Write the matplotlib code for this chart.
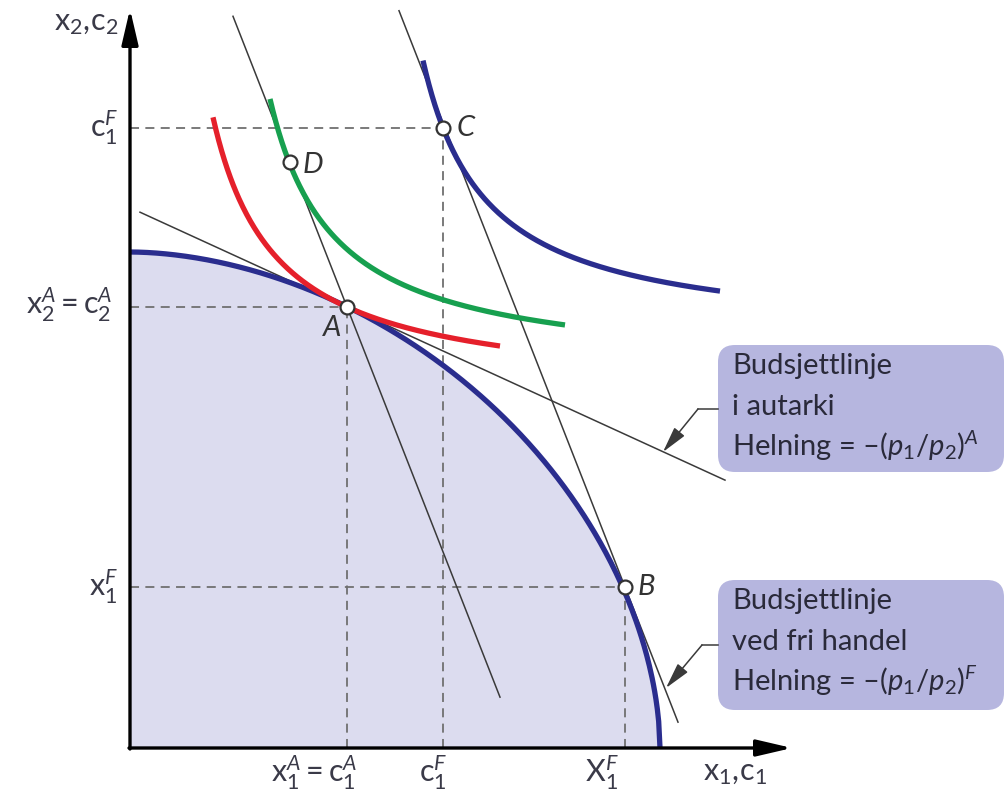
import numpy as np
import matplotlib.pyplot as plt
from matplotlib.patches import FancyBboxPatch

plt.rcParams['font.family'] = ['Lato', 'DejaVu Sans']
plt.rcParams['mathtext.fontset'] = 'custom'
plt.rcParams['mathtext.rm'] = 'Lato'
plt.rcParams['mathtext.it'] = 'Lato:italic'

# Transformasjonskurve: akseskjæringer og krumning
ppf_a, ppf_b, ppf_p = 5.30, 4.96, 1.84

# Punkter A, B, C, D
pkt_navn = ['A', 'B', 'C', 'D']
pkt_x = [2.17, 4.95, 3.13, 1.60]
pkt_y = [4.41, 1.61, 6.20, 5.86]

# Indifferenskurver  y = y0 + k/(x - x0)
ic_k = 1.757
ic_x0 = [0.200, 0.761, 2.301]
ic_y0 = [3.518, 3.741, 4.081]
ic_fra = [0.83, 1.40, 2.93]
ic_til = [3.70, 4.35, 5.90]
ic_farge = ['#e5202b', '#17a04f', '#2a2d8e']

# Budsjettlinjer: helning, punkt den går gjennom, x-område
bl_helning = [-0.458, -2.55, -2.55]
bl_punkt = ['A', 'A', 'B']
bl_fra = [0.10, 1.03, 2.69]
bl_til = [5.95, 3.70, 5.48]

# Tekst i boksene
boks1_linjer = ['Budsjettlinje', 'i autarki', 'Helning = –' + r'$(p_1/p_2)^A$']
boks2_linjer = ['Budsjettlinje', 'ved fri handel', 'Helning = –' + r'$(p_1/p_2)^F$']

navy = '#2a2d8e'
fyll = '#dcdcef'
boks = '#b6b6df'
strek = '#707070'

fig = plt.figure(figsize=(10.06, 7.93), dpi=100)
ax = fig.add_axes([0, 0, 1, 1])
ax.set_xlim(-1.30, 8.76)
ax.set_ylim(-0.45, 7.48)
ax.axis('off')

P = {n: (x, y) for n, x, y in zip(pkt_navn, pkt_x, pkt_y)}

# transformasjonskurven med fylt område under
xs = np.linspace(0, ppf_a, 400)
ys = ppf_b * np.clip(1 - (xs / ppf_a) ** ppf_p, 0, None) ** (1 / ppf_p)
ax.fill_between(xs, 0, ys, color=fyll, lw=0, zorder=0)
ax.plot(xs, ys, color=navy, lw=3.8, zorder=4, solid_capstyle='butt')

# stiplede hjelpelinjer
for n in ['A', 'B', 'C']:
    x, y = P[n]
    ax.plot([0, x], [y, y], ls=(0, (5, 3.5)), color=strek, lw=1.3, zorder=1)
    ax.plot([x, x], [0, y], ls=(0, (5, 3.5)), color=strek, lw=1.3, zorder=1)

# budsjettlinjer
for h, p, a, b in zip(bl_helning, bl_punkt, bl_fra, bl_til):
    px, py = P[p]
    xx = np.array([a, b])
    ax.plot(xx, py + h * (xx - px), color='#3a3a3a', lw=1.1, zorder=3)

# indifferenskurver
for x0, y0, a, b, c in zip(ic_x0, ic_y0, ic_fra, ic_til, ic_farge):
    xx = np.linspace(a, b, 300)
    ax.plot(xx, y0 + ic_k / (xx - x0), color=c, lw=3.8, zorder=5,
            solid_capstyle='butt')

# punkter
ax.plot(pkt_x, pkt_y, 'o', ms=10, mfc='white', mec='#333333', mew=1.6, zorder=6)
pl = dict(style='italic', fontsize=21, va='center', color='#333333')
ax.text(2.02, 4.20, 'A', ha='center', **pl)
ax.text(5.08, 1.61, 'B', ha='left', **pl)
ax.text(3.27, 6.20, 'C', ha='left', **pl)
ax.text(1.73, 5.83, 'D', ha='left', **pl)

# akser
pil = dict(arrowstyle='-|>,head_length=1.8,head_width=0.42', lw=2.4,
           color='black', mutation_scale=12, shrinkA=0, shrinkB=0)
ax.annotate('', xy=(0, 7.39), xytext=(0, -0.01), arrowprops=pil, zorder=7)
ax.annotate('', xy=(6.62, 0), xytext=(-0.01, 0), arrowprops=pil, zorder=7)

tk = dict(fontsize=22, color='#3a3a48', va='center')
ax.text(-0.44, 7.25, r'$\mathrm{x}_2,\!\mathrm{c}_2$', ha='center', **tk)
ax.text(-0.12, 6.20, r'$\mathrm{c}_1^F$', ha='right', **tk)
ax.text(-0.18, 4.43, r'$\mathrm{x}_2^A=\mathrm{c}_2^A$', ha='right', **tk)
ax.text(-0.12, 1.61, r'$\mathrm{x}_1^F$', ha='right', **tk)
ax.text(1.84, -0.25, r'$\mathrm{x}_1^A=\mathrm{c}_1^A$', ha='center', **tk)
ax.text(3.03, -0.25, r'$\mathrm{c}_1^F$', ha='center', **tk)
ax.text(4.72, -0.25, r'$\mathrm{X}_1^F$', ha='center', **tk)
ax.text(6.05, -0.25, r'$\mathrm{x}_1,\!\mathrm{c}_1$', ha='center', **tk)

# forklaringsbokser
for y_bunn, y_topp, linjer in [(2.76, 4.03, boks1_linjer), (0.38, 1.68, boks2_linjer)]:
    ax.add_patch(FancyBboxPatch((5.88, y_bunn), 2.86, y_topp - y_bunn,
                                boxstyle='round,pad=0,rounding_size=0.17',
                                fc=boks, ec='none', zorder=2))
    for i, t in enumerate(linjer):
        ax.text(6.02, y_topp - 0.29 - 0.41 * i, t, fontsize=21, color='#2a2a3a',
                ha='left', va='baseline', zorder=3)

# pekere fra boksene
ledd = dict(arrowstyle='-|>,head_length=1.6,head_width=0.4', lw=1.1,
            color='#3a3a3a', mutation_scale=10, shrinkA=0, shrinkB=0)
ax.plot([5.88, 5.68], [3.39, 3.39], color='#3a3a3a', lw=1.1)
ax.annotate('', xy=(5.33, 2.96), xytext=(5.68, 3.39), arrowprops=ledd)
ax.plot([5.88, 5.72], [1.03, 1.03], color='#3a3a3a', lw=1.1)
ax.annotate('', xy=(5.36, 0.60), xytext=(5.72, 1.03), arrowprops=ledd)

fig.savefig('out.png', dpi=100, facecolor='white')
